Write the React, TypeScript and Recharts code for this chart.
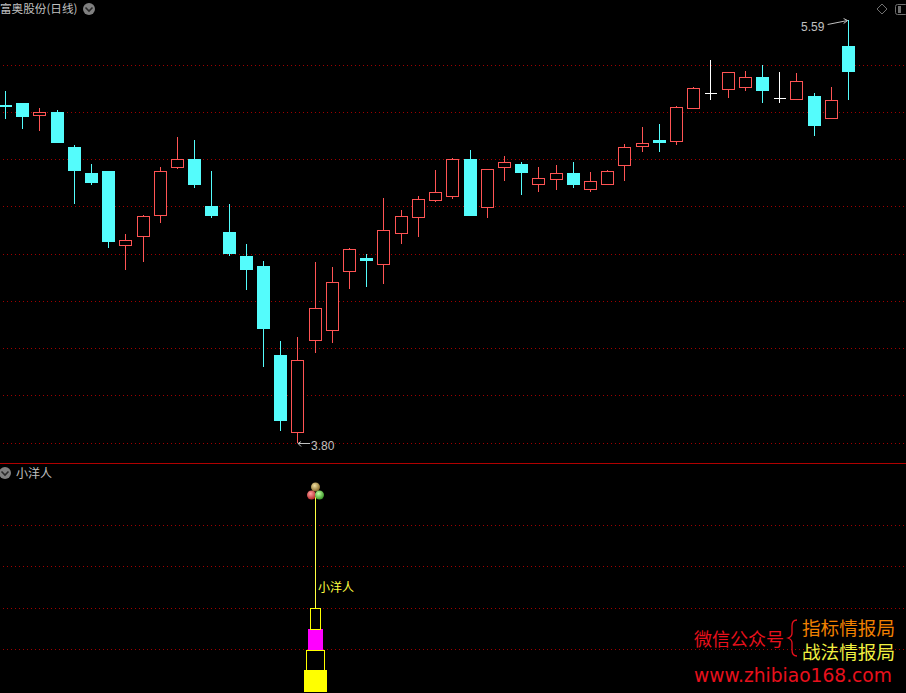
import React from "react";
import { Bar, CartesianGrid, ComposedChart, ReferenceDot, XAxis, YAxis } from "recharts";

const days = ["1","2","3","4","5","6","7","8","9","10","11","12","13","14","15","16","17","18","19","20","21","22","23","24","25","26","27","28","29","30","31","32","33","34","35","36","37","38","39","40","41","42","43","44","45","46","47","48","49","50"];
const opens = [5.231,5.239,5.188,5.201,5.053,4.943,4.951,4.638,4.676,4.765,4.968,5.002,4.803,4.693,4.592,4.549,4.173,3.847,4.236,4.278,4.528,4.583,4.558,4.689,4.757,4.829,4.846,5.002,4.799,4.968,4.981,4.896,4.917,4.943,4.875,4.896,4.977,5.057,5.083,5.078,5.218,5.281,5.298,5.307,5.349,5.26,5.256,5.269,5.176,5.48];
const closes = [5.222,5.18,5.201,5.07,4.951,4.901,4.651,4.659,4.761,4.951,5.002,4.892,4.761,4.6,4.532,4.283,3.893,4.151,4.372,4.482,4.621,4.57,4.702,4.761,4.833,4.862,5.002,4.761,4.96,4.989,4.943,4.922,4.943,4.892,4.909,4.951,5.053,5.07,5.07,5.222,5.303,5.281,5.37,5.349,5.29,5.26,5.332,5.142,5.252,5.37];
const highs = [5.29,5.239,5.218,5.209,5.061,4.981,4.951,4.685,4.765,4.968,5.095,5.083,4.951,4.812,4.642,4.57,4.232,4.249,4.566,4.545,4.625,4.6,4.837,4.786,4.846,4.956,5.006,5.04,4.96,5.015,4.989,4.968,4.977,4.989,4.947,4.956,5.066,5.138,5.15,5.226,5.307,5.421,5.37,5.375,5.4,5.37,5.366,5.281,5.307,5.59];
const lows = [5.171,5.129,5.121,5.07,4.812,4.892,4.625,4.532,4.566,4.731,4.96,4.879,4.752,4.592,4.448,4.122,3.851,3.8,4.181,4.223,4.452,4.46,4.473,4.642,4.672,4.82,4.833,4.761,4.752,4.909,4.85,4.862,4.871,4.879,4.862,4.892,4.909,5.032,5.032,5.061,5.218,5.252,5.26,5.29,5.239,5.239,5.252,5.099,5.171,5.252];
const priceTicks = [5.4,5.2,5.0,4.8,4.6,4.4,4.2,4.0,3.8];
const priceDomain = [3.7155, 5.6753];

const subTicks = [2.05,4.05,6.05,8.05];
const subDomain = [-0.048, 11.03];
const signalDay = "19";
const baseFill = [1.06];
const baseFrame = [0.97];
const midFill = [1.02];
const topFrame = [1.01];
const stem = [5.47];
const signalTop = 9.53;

const panelTitle = "小洋人";
const stockTitle = "富奥股份(日线)";
const lowLabel = "3.80";
const highLabel = "5.59";

const candleRows = days.map((day, i) => ({ day, open: opens[i], close: closes[i], high: highs[i], low: lows[i] }));
const subRows = days.map((day) => ({
  day,
  a: day === signalDay ? baseFill[0] : 0,
  b: day === signalDay ? baseFrame[0] : 0,
  c: day === signalDay ? midFill[0] : 0,
  d: day === signalDay ? topFrame[0] : 0,
  e: day === signalDay ? stem[0] : 0,
}));

const CYAN = "#54fcfc";
const RED = "#ff5454";
const GRID = "#a00000";
const GRAY = "#c0c0c0";
const UI = "'Noto Sans CJK SC', sans-serif";

function Candle(p: any) {
  const { x, y, width, height, payload } = p;
  const { open, close, high, low } = payload;
  const yOf = (v: number) => Math.round(y + ((high - v) / (high - low)) * height);
  const cx = Math.floor(x + width / 2) + 0.5;
  const top = yOf(Math.max(open, close));
  const bot = yOf(Math.min(open, close));
  const hi = yOf(high);
  const lo = yOf(low);
  if (open === close) {
    return (
      <g shapeRendering="crispEdges">
        <line x1={cx} x2={cx} y1={hi} y2={lo} stroke="#ffffff" />
        <line x1={cx - 6} x2={cx + 6} y1={top + 0.5} y2={top + 0.5} stroke="#ffffff" />
      </g>
    );
  }
  if (close < open) {
    return (
      <g shapeRendering="crispEdges">
        <line x1={cx} x2={cx} y1={hi} y2={lo} stroke={CYAN} />
        <rect x={cx - 6.5} y={top} width={13} height={bot - top} fill={CYAN} />
      </g>
    );
  }
  return (
    <g shapeRendering="crispEdges">
      <line x1={cx} x2={cx} y1={hi} y2={top} stroke={RED} />
      <line x1={cx} x2={cx} y1={bot} y2={lo} stroke={RED} />
      <rect x={cx - 6} y={top + 0.5} width={12} height={Math.max(bot - top, 1)} fill="#000" stroke={RED} />
    </g>
  );
}

function gridLine(p: any) {
  const y = Math.floor(p.y1) + 0.5;
  return <line key={p.key ?? y} x1={6} x2={p.x2} y1={y} y2={y} stroke={GRID} strokeDasharray="1 3" shapeRendering="crispEdges" />;
}

function segment(w: number, color: string, filled: boolean) {
  return (p: any) => {
    const { x, y, width, height } = p;
    if (!height || height <= 0) return <g />;
    const cx = Math.floor(x + width / 2) + 0.5;
    const t = Math.round(y);
    const h = Math.round(y + height) - t;
    if (filled) return <rect x={cx - w / 2} y={t} width={w} height={h} fill={color} shapeRendering="crispEdges" />;
    return <rect x={cx - w / 2 + 0.5} y={t + 0.5} width={w - 1} height={h} fill="#000" stroke={color} shapeRendering="crispEdges" />;
  };
}

function stemShape(p: any) {
  const { x, y, width, height } = p;
  if (!height || height <= 0) return <g />;
  const cx = Math.floor(x + width / 2) + 0.5;
  return <line x1={cx} x2={cx} y1={y} y2={y + height} stroke="#ffff40" shapeRendering="crispEdges" />;
}

function balls(p: any) {
  const { cx, cy } = p;
  const x = Math.floor(cx) + 0.5;
  return (
    <g>
      <circle cx={x} cy={cy - 8} r={4.5} fill="url(#ballGold)" />
      <circle cx={x - 4} cy={cy} r={4.5} fill="url(#ballRed)" />
      <circle cx={x + 4} cy={cy} r={4.5} fill="url(#ballGreen)" />
    </g>
  );
}

function lowMark(p: any) {
  const { cx, cy } = p;
  const y = Math.floor(cy) + 0.5;
  return (
    <g>
      <path d={`M${cx + 12} ${y}H${cx}M${cx + 3} ${y - 2}L${cx} ${y}L${cx + 3} ${y + 3}`} fill="none" stroke={GRAY} />
      <text x={cx + 13} y={y + 6} fill={GRAY} fontSize={12} fontFamily="'Liberation Sans', sans-serif">{lowLabel}</text>
    </g>
  );
}

function highMark(p: any) {
  const { cx, cy } = p;
  const y = Math.floor(cy) + 0.5;
  return (
    <g>
      <path d={`M${cx - 21} ${y + 4}L${cx - 1} ${y}M${cx - 5} ${y - 2}L${cx - 1} ${y}L${cx - 5} ${y + 3}`} fill="none" stroke={GRAY} />
      <text x={cx - 47.5} y={y + 10} fill={GRAY} fontSize={12} fontFamily="'Liberation Sans', sans-serif">{highLabel}</text>
    </g>
  );
}

function Chevron({ x, y }: { x: number; y: number }) {
  return (
    <svg style={{ position: "absolute", left: x - 7, top: y - 7 }} width={14} height={14}>
      <circle cx={7} cy={7} r={6} fill="#808080" />
      <path d="M3.5 5.5L7 9L10.5 5.5" fill="none" stroke="#2a2a2a" strokeWidth={1.6} />
    </svg>
  );
}

function Label({ x, y, size, color, text, family = UI }: { x: number; y: number; size: number; color: string; text: string; family?: string }) {
  return (
    <div style={{ position: "absolute", left: x, top: y, fontSize: size, lineHeight: `${size + 2}px`, color, fontFamily: family, whiteSpace: "nowrap" }}>{text}</div>
  );
}

export default function App() {
  return (
    <div style={{ position: "absolute", left: 0, top: 0, width: 906, height: 693, background: "#000", overflow: "hidden" }}>
      <div style={{ position: "absolute", left: -3, top: 0 }}>
        <ComposedChart width={909} height={463} data={candleRows} margin={{ top: 0, right: 0, bottom: 0, left: 0 }}>
          <XAxis dataKey="day" hide padding={{ left: 0, right: 48.8 }} />
          <YAxis hide domain={priceDomain} ticks={priceTicks} />
          <CartesianGrid vertical={false} horizontal={gridLine} horizontalValues={priceTicks} />
          <Bar dataKey={(d: any) => [d.low, d.high]} barSize={13} isAnimationActive={false} shape={(p: any) => <Candle {...p} />} />
          <ReferenceDot x="18" y={3.8} r={0} shape={lowMark} ifOverflow="visible" />
          <ReferenceDot x="50" y={5.59} r={0} shape={highMark} ifOverflow="visible" />
        </ComposedChart>
      </div>

      <div style={{ position: "absolute", left: 0, top: 463, width: 906, height: 1, background: "#b00000" }} />

      <div style={{ position: "absolute", left: -3, top: 464 }}>
        <ComposedChart width={909} height={229} data={subRows} margin={{ top: 0, right: 0, bottom: 0, left: 0 }}>
          <defs>
            <radialGradient id="ballGold" cx="40%" cy="35%" r="70%"><stop offset="0%" stopColor="#f0e0a0" /><stop offset="100%" stopColor="#806020" /></radialGradient>
            <radialGradient id="ballRed" cx="40%" cy="35%" r="70%"><stop offset="0%" stopColor="#ffa0a0" /><stop offset="100%" stopColor="#b02020" /></radialGradient>
            <radialGradient id="ballGreen" cx="40%" cy="35%" r="70%"><stop offset="0%" stopColor="#c0ffa0" /><stop offset="100%" stopColor="#309020" /></radialGradient>
          </defs>
          <XAxis dataKey="day" hide padding={{ left: 0, right: 48.8 }} />
          <YAxis hide domain={subDomain} ticks={subTicks} />
          <CartesianGrid vertical={false} horizontal={gridLine} horizontalValues={subTicks} />
          <Bar dataKey="a" stackId="s" barSize={13} isAnimationActive={false} shape={segment(23, "#ffff00", true)} />
          <Bar dataKey="b" stackId="s" barSize={13} isAnimationActive={false} shape={segment(19, "#ffff00", false)} />
          <Bar dataKey="c" stackId="s" barSize={13} isAnimationActive={false} shape={segment(15, "#ff00ff", true)} />
          <Bar dataKey="d" stackId="s" barSize={13} isAnimationActive={false} shape={segment(11, "#ffff00", false)} />
          <Bar dataKey="e" stackId="s" barSize={13} isAnimationActive={false} shape={stemShape} />
          <ReferenceDot x={signalDay} y={signalTop} r={0} shape={balls} ifOverflow="visible" />
        </ComposedChart>
      </div>

      <Label x={0} y={2} size={11.6} color={GRAY} text={stockTitle} />
      <Chevron x={89} y={9} />
      <Chevron x={5} y={473} />
      <Label x={16} y={466} size={12} color={GRAY} text={panelTitle} />
      <Label x={318} y={580} size={12} color="#ffff40" text={panelTitle} />

      <svg style={{ position: "absolute", left: 876, top: 2 }} width={30} height={16}>
        <path d="M6 2L11 7L6 12L1 7Z" fill="none" stroke="#707070" />
        <rect x={19.5} y={2.5} width={12} height={10} rx={2} fill="none" stroke="#707070" />
        <rect x={22} y={4} width={3} height={7} fill="#707070" />
      </svg>

      <Label x={694} y={628} size={18} color="#e8101c" text="微信公众号" />
      <svg style={{ position: "absolute", left: 786, top: 618 }} width={14} height={40}>
        <path d="M11 2C7 2 6 4 6 8V15C6 18 5 19 2 20C5 21 6 22 6 25V32C6 36 7 38 11 38" fill="none" stroke="#e8101c" strokeWidth={1.3} />
      </svg>
      <Label x={802} y={617} size={18.6} color="#f08000" text="指标情报局" />
      <Label x={802} y={641} size={18.6} color="#f0f040" text="战法情报局" />
      <Label x={694} y={666} size={18.65} color="#e8101c" text="www.zhibiao168.com" family="'DejaVu Sans', sans-serif" />
    </div>
  );
}
